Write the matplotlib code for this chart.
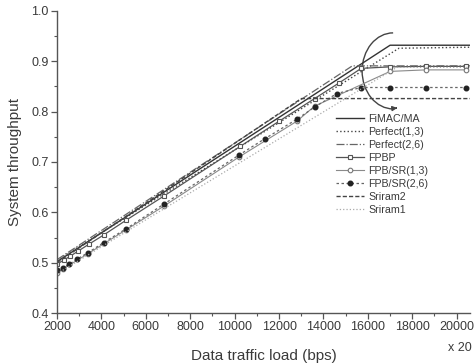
import matplotlib
matplotlib.use('Agg')
import matplotlib.pyplot as plt
from matplotlib.patches import Arc
from matplotlib.ticker import MultipleLocator

plt.rcParams['font.family'] = ['Liberation Sans', 'DejaVu Sans']

# values (throughput vs load, x 20)
fimac_x = [2000, 17000, 20600]
fimac_y = [0.502, 0.932, 0.932]

perf13_x = [2000, 17400, 20600]
perf13_y = [0.505, 0.926, 0.928]

perf26_x = [2000, 15300, 20600]
perf26_y = [0.506, 0.891, 0.891]

fpbp_x = [2000, 2300, 2600, 2950, 3450, 4100, 5100, 6800, 10250, 12000,
          13600, 14700, 15700, 17000, 18600, 20400]
fpbp_y = [0.497, 0.505, 0.513, 0.523, 0.537, 0.555, 0.584, 0.632, 0.731, 0.781,
          0.826, 0.857, 0.886, 0.889, 0.890, 0.890]

sr13_x = [2000, 2250, 3400, 5100, 6800, 10200, 12800, 13600, 17000, 18600, 20400]
sr13_y = [0.480, 0.487, 0.518, 0.565, 0.612, 0.710, 0.781, 0.811, 0.880, 0.883, 0.883]

sr26_x = [2000, 2250, 2550, 2900, 3400, 4100, 5100, 6800, 10200, 11350,
          12800, 13600, 14600, 15700, 17000, 18600, 20400]
sr26_y = [0.486, 0.489, 0.497, 0.507, 0.520, 0.540, 0.567, 0.616, 0.714, 0.746,
          0.785, 0.809, 0.836, 0.848, 0.848, 0.848, 0.848]

sriram2_x = [2000, 13000, 20600]
sriram2_y = [0.500, 0.826, 0.826]

sriram1_x = [2000, 17300, 20600]
sriram1_y = [0.478, 0.888, 0.888]

txt = '#3a3a3a'

fig = plt.figure(figsize=(4.74, 3.64), dpi=100)
ax = fig.add_axes([0.1203, 0.1401, 0.8713, 0.8297])

ax.plot(fimac_x, fimac_y, '-', color='#333333', lw=1.0, label='FiMAC/MA')
ax.plot(perf13_x, perf13_y, ':', color='#444444', lw=1.0, label='Perfect(1,3)')
ax.plot(perf26_x, perf26_y, '-.', color='#666666', lw=0.9, label='Perfect(2,6)')
ax.plot(fpbp_x, fpbp_y, '-', color='#555555', lw=0.9, marker='s', ms=3.3,
        mfc='white', mec='#555555', mew=0.8, label='FPBP')
ax.plot(sr13_x, sr13_y, '-', color='#8a8a8a', lw=0.8, marker='o', ms=3.3,
        mfc='white', mec='#777777', mew=0.8, label='FPB/SR(1,3)')
ax.plot(sr26_x, sr26_y, '--', dashes=(2, 2), color='#666666', lw=0.9, marker='o',
        ms=3.3, mfc='#222222', mec='#222222', label='FPB/SR(2,6)')
ax.plot(sriram2_x, sriram2_y, '--', dashes=(3, 1.5), color='#444444', lw=1.0,
        label='Sriram2')
ax.plot(sriram1_x, sriram1_y, ':', color='#aaaaaa', lw=0.9, label='Sriram1')

# ellipse arc with arrow around the saturation region
ax.add_patch(Arc((17137, 0.881), 2793, 0.151, theta1=95, theta2=268,
                 color='#444444', lw=1.0))
ax.annotate('', xy=(17450, 0.808), xytext=(17150, 0.8065),
            arrowprops=dict(arrowstyle='-|>', color='#444444', lw=1.0,
                            mutation_scale=7))

ax.set_xlim(2000, 20600)
ax.set_ylim(0.4, 1.0)
ax.xaxis.set_minor_locator(MultipleLocator(1000))
ax.yaxis.set_major_locator(MultipleLocator(0.1))
ax.yaxis.set_minor_locator(MultipleLocator(0.05))
ax.set_xticks(range(2000, 20001, 2000))

for s in ['top', 'right']:
    ax.spines[s].set_visible(False)
for s in ['left', 'bottom']:
    ax.spines[s].set_color('#555555')
    ax.spines[s].set_linewidth(1.0)

ax.tick_params(which='major', direction='out', length=4, width=0.9,
               color='#555555', labelcolor=txt, labelsize=9, pad=2)
ax.tick_params(which='minor', direction='out', length=2.5, width=0.8,
               color='#555555')

ax.set_xlabel('Data traffic load (bps)', fontsize=11, color=txt, labelpad=11)
ax.set_ylabel('System throughput', fontsize=11, color=txt, labelpad=7)
fig.text(0.97, 0.045, 'x 20', fontsize=9, color=txt, ha='center', va='center')

leg = ax.legend(loc='upper left', bbox_to_anchor=(0.675, 0.66), frameon=False,
                fontsize=7.7, labelspacing=0.28, handlelength=2.6,
                handletextpad=0.45, borderaxespad=0, borderpad=0)
for t in leg.get_texts():
    t.set_color(txt)

fig.savefig('out.png', dpi=100)
